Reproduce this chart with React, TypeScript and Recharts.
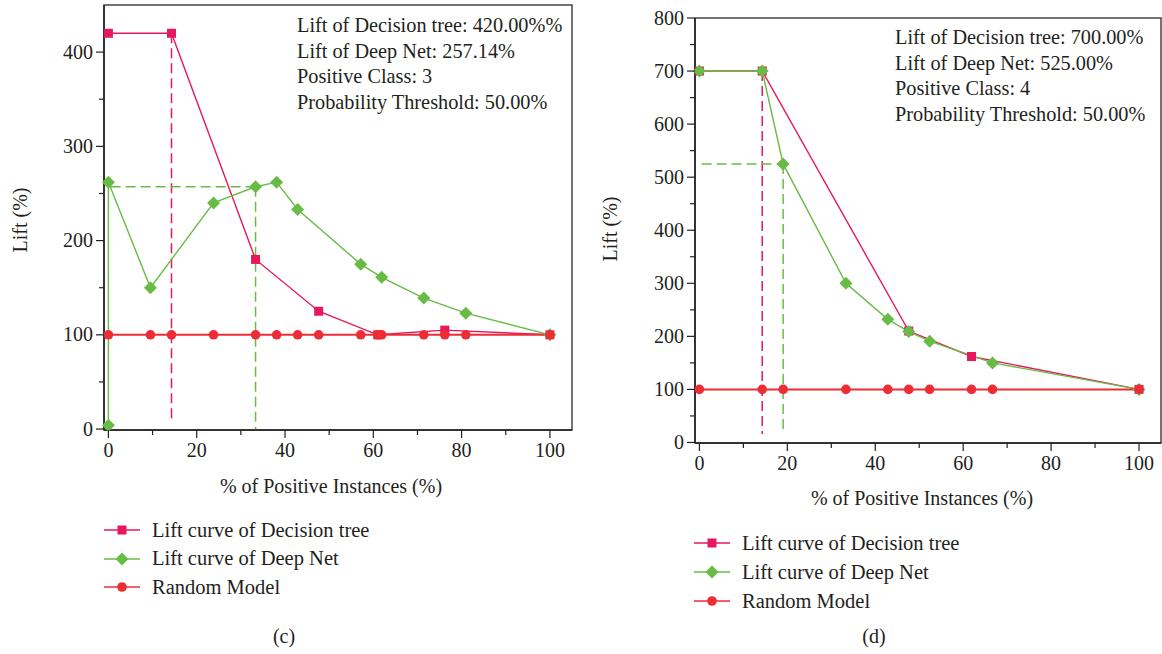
import React from 'react';
import { LineChart, Line, XAxis, YAxis, ReferenceLine, ReferenceArea } from 'recharts';

// panel (c)
const treeXC = [0, 14.29, 33.33, 47.62, 61.0, 76.19, 100];
const treeYC = [420, 420, 180, 125, 100, 105, 100];
const netXC = [0, 0, 9.52, 23.81, 33.33, 38.1, 42.86, 57.14, 61.9, 71.43, 80.95, 100];
const netYC = [4, 262, 150, 240, 257.14, 262, 233, 175, 161, 139, 123, 100];
const randXC = [0, 9.52, 14.29, 23.81, 33.33, 38.1, 42.86, 47.62, 57.14, 61.0, 61.9, 71.43, 76.19, 80.95, 100];

// panel (d)
const treeXD = [0, 14.29, 47.62, 61.9, 100];
const treeYD = [700, 700, 210, 162, 100];
const netXD = [0, 14.29, 19.05, 33.33, 42.86, 47.62, 52.38, 66.67, 100];
const netYD = [700, 700, 525, 300, 232, 209, 191, 150, 100];
const randXD = [0, 14.29, 19.05, 33.33, 42.86, 47.62, 52.38, 61.9, 66.67, 100];

const xTicks = [0, 10, 20, 30, 40, 50, 60, 70, 80, 90, 100];
const yTicksC = [0, 50, 100, 150, 200, 250, 300, 350, 400];
const yTicksD = [0, 50, 100, 150, 200, 250, 300, 350, 400, 450, 500, 550, 600, 650, 700, 750, 800];

const notesC = ['Lift of Decision tree: 420.00%%', 'Lift of Deep Net: 257.14%', 'Positive Class: 3', 'Probability Threshold: 50.00%'];
const notesD = ['Lift of Decision tree: 700.00%', 'Lift of Deep Net: 525.00%', 'Positive Class: 4', 'Probability Threshold: 50.00%'];
const legendNames = ['Lift curve of Decision tree', 'Lift curve of Deep Net', 'Random Model'];

const PINK = '#E8185C';
const GREEN = '#68BC45';
const RED = '#EE2C35';
const INK = '#231F20';
const FONT = '"Liberation Serif", "DejaVu Serif", serif';

const toPoints = (xs: number[], ys: number[]) => xs.map((x, i) => ({ x, y: ys[i] }));
const flat = (xs: number[], v: number) => xs.map((x) => ({ x, y: v }));

const Square = (p: any) => (
  <rect key={p.key ?? p.index} x={p.cx - 4.5} y={p.cy - 4.5} width={9} height={9} fill={PINK} />
);
const Diamond = (p: any) => (
  <polygon
    key={p.key ?? p.index}
    points={`${p.cx},${p.cy - 6.5} ${p.cx + 6.5},${p.cy} ${p.cx},${p.cy + 6.5} ${p.cx - 6.5},${p.cy}`}
    fill={GREEN}
  />
);

const YTick = ({ x, y, payload }: any) => {
  const major = payload.value % 100 === 0;
  return (
    <g>
      <line x1={x} x2={x - (major ? 8 : 5)} y1={y} y2={y} stroke={INK} strokeWidth={1.2} />
      {major && (
        <text x={x - 11} y={y + 6.5} textAnchor="end" fontFamily={FONT} fontSize={20} fill={INK}>
          {payload.value}
        </text>
      )}
    </g>
  );
};

const XTick = ({ x, y, payload }: any) => {
  const major = payload.value % 20 === 0;
  return (
    <g>
      <line x1={x} x2={x} y1={y} y2={y + (major ? 8 : 5)} stroke={INK} strokeWidth={1.2} />
      {major && (
        <text x={x} y={y + 27} textAnchor="middle" fontFamily={FONT} fontSize={20} fill={INK}>
          {payload.value}
        </text>
      )}
    </g>
  );
};

interface PanelProps {
  left: number;
  plotTop: number;
  width: number;
  height: number;
  yMax: number;
  yTicks: number[];
  tree: { x: number; y: number }[];
  net: { x: number; y: number }[];
  rand: { x: number; y: number }[];
  treeX: number;
  treeY: number;
  treeStop: number;
  netX: number;
  netY: number;
  netStop: number;
  marginRight: number;
}

function Panel(p: PanelProps) {
  const dash = '10 5';
  return (
    <div style={{ position: 'absolute', left: p.left, top: 0 }}>
      <LineChart width={p.width} height={p.height} margin={{ top: p.plotTop, right: p.marginRight, bottom: 0, left: 0 }}>
        <XAxis
          type="number"
          dataKey="x"
          domain={[-1, 105]}
          ticks={xTicks}
          interval={0}
          tickSize={0}
          tickMargin={0}
          tickLine={false}
          tick={<XTick />}
          height={40}
          axisLine={{ stroke: INK, strokeWidth: 1.5 }}
          allowDuplicatedCategory={false}
        />
        <YAxis
          type="number"
          dataKey="y"
          domain={[-1, p.yMax]}
          ticks={p.yTicks}
          interval={0}
          tickSize={0}
          tickMargin={0}
          tickLine={false}
          tick={<YTick />}
          width={104}
          axisLine={{ stroke: INK, strokeWidth: 1.5 }}
        />
        <ReferenceArea x1={-1} x2={105} y1={-1} y2={p.yMax} fill="none" stroke="#444" strokeWidth={1.5} />
        <ReferenceLine
          segment={[{ x: p.treeX, y: p.treeY }, { x: p.treeX, y: p.treeStop }]}
          stroke={PINK}
          strokeWidth={1.5}
          strokeDasharray={dash}
        />
        <ReferenceLine
          segment={[{ x: 0.5, y: p.netY }, { x: p.netX, y: p.netY }]}
          stroke={GREEN}
          strokeWidth={1.5}
          strokeDasharray={dash}
        />
        <ReferenceLine
          segment={[{ x: p.netX, y: p.netY }, { x: p.netX, y: p.netStop }]}
          stroke={GREEN}
          strokeWidth={1.5}
          strokeDasharray={dash}
        />
        <Line
          data={p.tree}
          dataKey="y"
          type="linear"
          stroke={PINK}
          strokeWidth={1.4}
          dot={Square}
          isAnimationActive={false}
        />
        <Line
          data={p.net}
          dataKey="y"
          type="linear"
          stroke={GREEN}
          strokeWidth={1.4}
          dot={Diamond}
          isAnimationActive={false}
        />
        <Line
          data={p.rand}
          dataKey="y"
          type="linear"
          stroke={RED}
          strokeWidth={2}
          dot={{ r: 4.8, fill: RED, stroke: 'none' }}
          isAnimationActive={false}
        />
      </LineChart>
    </div>
  );
}

const textStyle: React.CSSProperties = {
  position: 'absolute',
  fontFamily: FONT,
  fontSize: 20,
  color: INK,
  whiteSpace: 'nowrap',
  lineHeight: '20px',
};

function Notes({ left, top, lines }: { left: number; top: number; lines: string[] }) {
  return (
    <>
      {lines.map((t, i) => (
        <div key={t} style={{ ...textStyle, fontSize: 20.3, left, top: top + i * 25.7 - 9 }}>
          {t}
        </div>
      ))}
    </>
  );
}

function LegendBox({ left, top, gap }: { left: number; top: number; gap: number }) {
  const colors = [PINK, GREEN, RED];
  return (
    <>
      {legendNames.map((name, i) => (
        <div key={name} style={{ position: 'absolute', left, top: top + i * gap - 10, height: 20, display: 'flex', alignItems: 'center' }}>
          <svg width={38} height={16}>
            <line x1={0} x2={36} y1={8} y2={8} stroke={colors[i]} strokeWidth={1.4} />
            {i === 0 && <rect x={13.5} y={3.5} width={9} height={9} fill={PINK} />}
            {i === 1 && <polygon points="18,1.5 24.5,8 18,14.5 11.5,8" fill={GREEN} />}
            {i === 2 && <circle cx={18} cy={8} r={4.8} fill={RED} />}
          </svg>
          <span style={{ fontFamily: FONT, fontSize: 20.5, color: INK, marginLeft: 10, whiteSpace: 'nowrap' }}>{name}</span>
        </div>
      ))}
    </>
  );
}

export default function App() {
  return (
    <div style={{ position: 'absolute', left: 0, top: 0, width: 1162, height: 654, background: '#fff', overflow: 'hidden' }}>
      <Panel
        left={0}
        plotTop={5}
        width={580}
        height={470}
        yMax={450}
        yTicks={yTicksC}
        tree={toPoints(treeXC, treeYC)}
        net={toPoints(netXC, netYC)}
        rand={flat(randXC, 100)}
        treeX={14.29}
        treeY={420}
        treeStop={8}
        netX={33.33}
        netY={257.14}
        netStop={-1}
        marginRight={8}
      />
      <Panel
        left={591}
        plotTop={18}
        width={571}
        height={483}
        yMax={800}
        yTicks={yTicksD}
        tree={toPoints(treeXD, treeYD)}
        net={toPoints(netXD, netYD)}
        rand={flat(randXD, 100)}
        treeX={14.29}
        treeY={700}
        treeStop={16}
        netX={19.05}
        netY={525}
        netStop={19}
        marginRight={1}
      />

      <Notes left={297} top={24} lines={notesC} />
      <Notes left={895} top={36} lines={notesD} />

      <div style={{ ...textStyle, left: 331, top: 476, transform: 'translateX(-50%)' }}>% of Positive Instances (%)</div>
      <div style={{ ...textStyle, left: 922, top: 488, transform: 'translateX(-50%)' }}>% of Positive Instances (%)</div>
      <div style={{ ...textStyle, left: 20, top: 220, transform: 'translate(-50%, -50%) rotate(-90deg)' }}>Lift (%)</div>
      <div style={{ ...textStyle, left: 610, top: 229, transform: 'translate(-50%, -50%) rotate(-90deg)' }}>Lift (%)</div>

      <LegendBox left={104} top={530} gap={28.7} />
      <LegendBox left={694} top={543} gap={29} />

      <div style={{ ...textStyle, left: 284, top: 626, transform: 'translateX(-50%)' }}>(c)</div>
      <div style={{ ...textStyle, left: 874, top: 626, transform: 'translateX(-50%)' }}>(d)</div>
    </div>
  );
}
